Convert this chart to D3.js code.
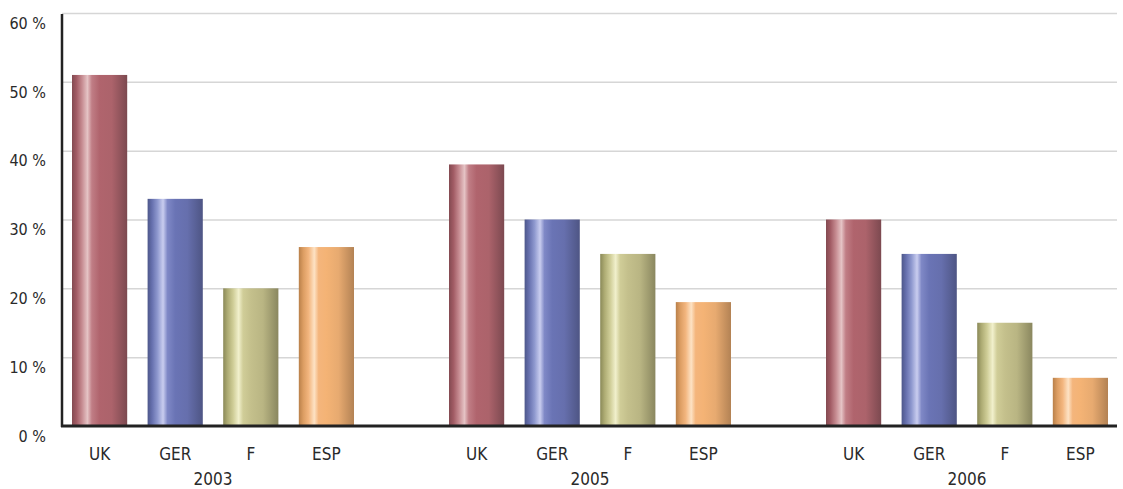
<!DOCTYPE html>
<html>
<head>
<meta charset="utf-8">
<script src="https://cdn.jsdelivr.net/npm/d3@7"></script>
<style>
  html, body { margin: 0; padding: 0; background: #fff; }
  svg text { font-family: "Liberation Sans Narrow", "DejaVu Sans Condensed", "Roboto Condensed", sans-serif; fill: #2a2a2a; }
</style>
</head>
<body>
<svg id="chart" width="1123" height="489"></svg>
<script>
// Market share by country, per year
const years = ["2003", "2005", "2006"];
const countries = ["UK", "GER", "F", "ESP"];
const values2003 = [51, 33, 20, 26];
const values2005 = [38, 30, 25, 18];
const values2006 = [30, 25, 15, 7];
const yTicks = [0, 10, 20, 30, 40, 50, 60];

const seriesByYear = { "2003": values2003, "2005": values2005, "2006": values2006 };

// Cylinder-like shading for each country
const shades = {
  UK:  ["#834a51", "#a15b64", "#c68b91", "#e5c3c5", "#c07d85", "#b0646d", "#ac636b", "#7c4950"],
  GER: ["#4d578a", "#6670ae", "#8f99cf", "#c9cdef", "#7f88c6", "#6a74b5", "#666fad", "#4e5584"],
  F:   ["#8a8958", "#aeac74", "#cfcd97", "#f1f0cc", "#d0cd98", "#c4c08c", "#b9b583", "#8a875f"],
  ESP: ["#b9804a", "#dc9d62", "#f3b67f", "#fde2c4", "#f4b57c", "#f4b375", "#e7aa70", "#b38254"]
};
const stopOffsets = [0, 0.08, 0.18, 0.28, 0.36, 0.5, 0.72, 1];

const svg = d3.select("#chart");
const margin = { left: 62, right: 1117, top: 13, bottom: 426 };

const y = d3.scaleLinear().domain([0, 60]).range([margin.bottom, margin.top]);

const x0 = d3.scaleBand().domain(years).range([72, 1108]).paddingInner(0.252).paddingOuter(0);
const x1 = d3.scaleBand().domain(countries).range([0, x0.bandwidth()]).paddingInner(0.27).paddingOuter(0);

const defs = svg.append("defs");
countries.forEach(c => {
  const g = defs.append("linearGradient").attr("id", "grad-" + c)
    .attr("x1", "0%").attr("x2", "100%").attr("y1", "0%").attr("y2", "0%");
  shades[c].forEach((col, i) => {
    g.append("stop").attr("offset", stopOffsets[i]).attr("stop-color", col);
  });
});

// Horizontal grid
const grid = svg.append("g")
  .attr("transform", `translate(${margin.left},0)`)
  .call(d3.axisLeft(y).tickValues(yTicks.filter(t => t > 0))
    .tickSize(-(margin.right - margin.left)).tickFormat(""));
grid.select(".domain").remove();
grid.selectAll(".tick line").attr("stroke", "#d6d6d6").attr("stroke-width", 1.5);

// Y tick labels
const yAxis = svg.append("g")
  .attr("transform", `translate(${margin.left},0)`)
  .call(d3.axisLeft(y).tickValues(yTicks).tickSize(0).tickPadding(16).tickFormat(d => d + " %"));
yAxis.select(".domain").remove();
yAxis.selectAll(".tick text").attr("font-size", 16).attr("dy", "0.95em");

// Bars
const groups = svg.append("g").selectAll("g")
  .data(years).join("g")
  .attr("transform", d => `translate(${x0(d)},0)`);

groups.selectAll("rect")
  .data(yr => countries.map((c, i) => ({ country: c, value: seriesByYear[yr][i] })))
  .join("rect")
  .attr("x", d => x1(d.country))
  .attr("width", x1.bandwidth())
  .attr("y", d => y(d.value))
  .attr("height", d => y(0) - y(d.value))
  .attr("fill", d => `url(#grad-${d.country})`);

// Country labels under each bar
const catAxis = groups.append("g")
  .attr("transform", `translate(0,${margin.bottom})`)
  .each(function () {
    d3.select(this).call(d3.axisBottom(x1).tickSize(0).tickPadding(22));
  });
catAxis.select(".domain").remove();
catAxis.selectAll(".tick text").attr("font-size", 17);

// Year labels
const yearAxis = svg.append("g")
  .attr("transform", `translate(0,${margin.bottom})`)
  .call(d3.axisBottom(x0).tickSize(0).tickPadding(47));
yearAxis.select(".domain").remove();
yearAxis.selectAll(".tick text").attr("font-size", 17);

// Axis lines
svg.append("line")
  .attr("x1", margin.left).attr("x2", margin.left)
  .attr("y1", margin.top + 1).attr("y2", margin.bottom + 1)
  .attr("stroke", "#222").attr("stroke-width", 2.5);
svg.append("line")
  .attr("x1", margin.left - 1).attr("x2", margin.right)
  .attr("y1", margin.bottom).attr("y2", margin.bottom)
  .attr("stroke", "#222").attr("stroke-width", 3);
</script>
</body>
</html>
